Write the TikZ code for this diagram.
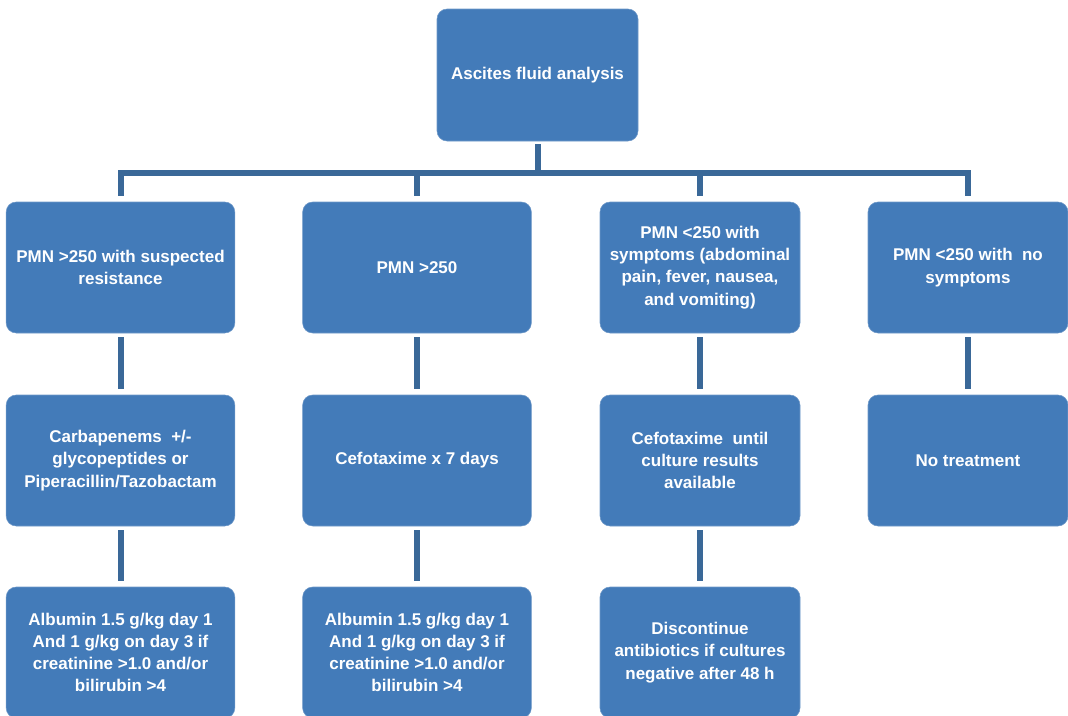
\documentclass[tikz,border=0pt]{standalone}
\usepackage{fontspec}
\setmainfont{Liberation Sans}
\usepackage{tikz}

\definecolor{boxblue}{RGB}{67,123,185}
\definecolor{boxedge}{RGB}{110,152,200}
\definecolor{linkblue}{RGB}{58,104,152}

\tikzset{
  stepbox/.style={draw=boxedge, line width=0.4pt, fill=boxblue, rounded corners=7.5pt,
    text=white, font=\fontsize{12.75}{16.7}\selectfont\bfseries, align=center,
    minimum width=150pt, minimum height=98.25pt, inner sep=2pt},
  widebox/.style={stepbox, minimum width=171.5pt},
  link/.style={draw=linkblue, line width=4.5pt}
}

\begin{document}
\begin{tikzpicture}[x=0.75pt,y=0.75pt,yscale=-1,xscale=1]
\useasboundingbox (0,0) rectangle (1068,715);

% Top box
\node [stepbox, minimum width=150.75pt, minimum height=99pt] (top) at (537.5,75) {Ascites fluid analysis};

% First row
\node [widebox] (a1) at (120.5,267.5) {PMN >250 with suspected\\resistance};
\node [widebox] (b1) at (417,267.5) {PMN >250};
\node [stepbox] (c1) at (700,267.5) {PMN <250 with\\symptoms (abdominal\\pain, fever, nausea,\\and vomiting)};
\node [stepbox] (d1) at (968,267.5) {PMN <250 with~ no\\symptoms};

% Second row
\node [widebox] (a2) at (120.5,460.5) {Carbapenems~ +/-\\glycopeptides or\\Piperacillin/Tazobactam};
\node [widebox] (b2) at (417,460.5) {Cefotaxime x 7 days};
\node [stepbox] (c2) at (700,460.5) {Cefotaxime~ until\\culture results\\available};
\node [stepbox] (d2) at (968,460.5) {No treatment};

% Third row
\node [widebox] (a3) at (120.5,652.5) {Albumin 1.5 g/kg day 1\\And 1 g/kg on day 3 if\\creatinine >1.0 and/or\\bilirubin >4};
\node [widebox] (b3) at (417,652.5) {Albumin 1.5 g/kg day 1\\And 1 g/kg on day 3 if\\creatinine >1.0 and/or\\bilirubin >4};
\node [stepbox] (c3) at (700,652.5) {Discontinue\\antibiotics if cultures\\negative after 48 h};

% Connectors
\coordinate (bus) at (537.5,173);
\draw [link, shorten <=2.25pt] (top.south) -- (bus);
\draw [link, shorten <=4.5pt, shorten >=4.5pt] (a1.north) -- (a1 |- bus) -- (d1 |- bus) -- (d1.north);
\draw [link, shorten >=4.5pt] (b1 |- bus) -- (b1.north);
\draw [link, shorten >=4.5pt] (c1 |- bus) -- (c1.north);
\foreach \u/\v in {a1/a2,b1/b2,c1/c2,d1/d2,a2/a3,b2/b3,c2/c3}
  \draw [link, shorten <=3pt, shorten >=4.5pt] (\u.south) -- (\v.north);

\end{tikzpicture}
\end{document}
